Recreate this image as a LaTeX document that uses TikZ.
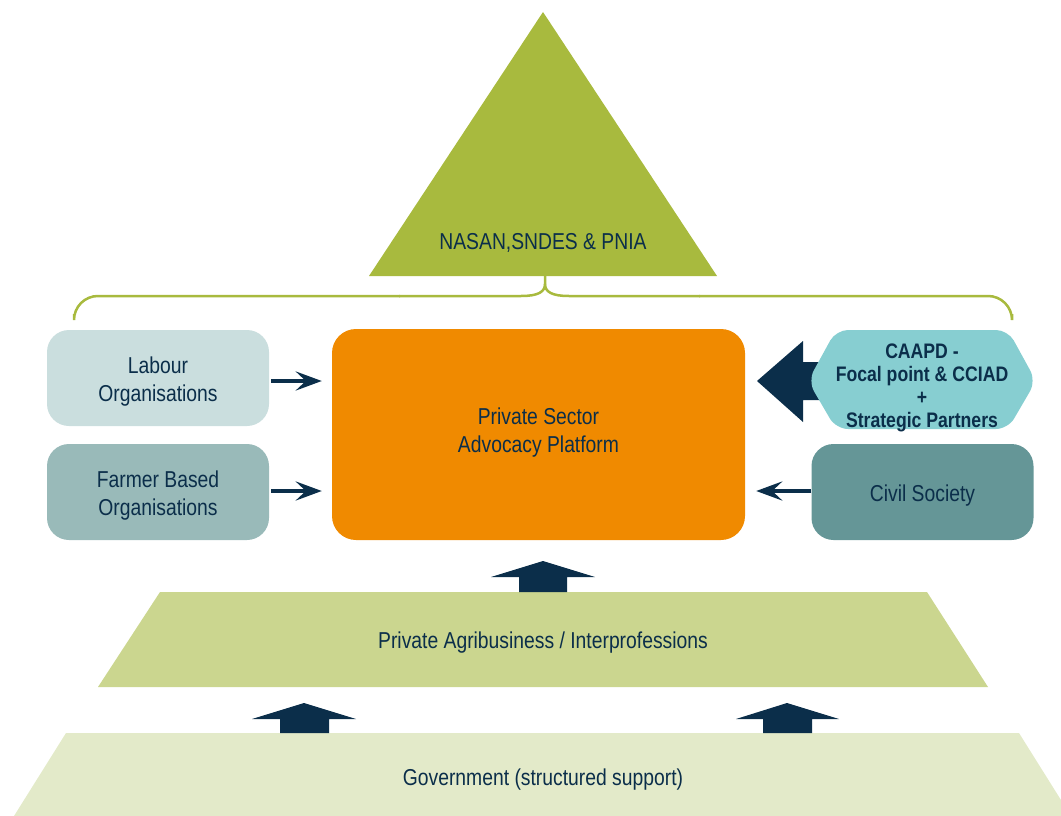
\documentclass[tikz,border=0pt]{standalone}
\usepackage{fontspec}
\setmainfont{Liberation Sans}[FakeStretch=0.84]
\usetikzlibrary{arrows.meta}
\definecolor{navy}{HTML}{0B2E4A}
\definecolor{trigreen}{HTML}{A8BA3E}
\definecolor{labourc}{HTML}{CADEDE}
\definecolor{farmerc}{HTML}{99BAB9}
\definecolor{civilc}{HTML}{659697}
\definecolor{hexc}{HTML}{87CED1}
\definecolor{orangec}{HTML}{F08A00}
\definecolor{midc}{HTML}{CBD68F}
\definecolor{botc}{HTML}{E3EAC9}
\tikzset{
  txt/.style={text=navy, font=\fontsize{23}{28}\selectfont, align=center, inner sep=0pt},
  box/.style={rounded corners=22pt, minimum width=222pt, minimum height=96pt, inner sep=0pt},
  thin arrow/.style={draw=navy, line width=4pt, -{Stealth[length=26pt,width=19pt,inset=10pt]}},
  bracel/.style={draw=trigreen, line width=2.5pt}
}
\begin{document}
\begin{tikzpicture}[x=1pt,y=-1pt]
\useasboundingbox (0,0) rectangle (1061,816);
\clip (0,0) rectangle (1061,816);
% top triangle
\fill[trigreen] (543,12) -- (717,276) -- (369,276) -- cycle;
\node[txt] (nasan) at (543,243) {NASAN,SNDES \& PNIA};
% brace
\draw[bracel, rounded corners=24pt] (74,314) -- (74,296) -- (400,296);
\draw[bracel] (399,296) -- (521,296) .. controls (538,296) and (545,292) .. (545,284) -- (545,276);
\draw[bracel] (545,284) .. controls (545,292) and (552,296) .. (569,296) -- (700,296);
\draw[bracel, rounded corners=24pt] (699,296) -- (1012,296) -- (1012,314);
% middle trapezoid
\fill[midc] (160,592) -- (927,592) -- (988,687) -- (98,687) -- cycle;
\node[txt] (agri) at (543,643) {Private Agribusiness / Interprofessions};
% bottom trapezoid
\fill[botc] (66,733) -- (1019,733) -- (1071,816) -- (14,816) -- cycle;
\node[txt] (gov) at (543,780) {Government (structured support)};
% boxes
\node[box, fill=labourc] (labour) at (158,378) {};
\node[txt] (labourt) at ([yshift=-3.5pt]labour.center) {Labour\\Organisations};
\node[box, fill=farmerc] (farmer) at (158,492) {};
\node[txt] (farmert) at ([yshift=-3.5pt]farmer.center) {Farmer Based\\Organisations};
\node[box, fill=civilc] (civil) at (922.5,492) {};
\node[txt] (civilt) at ([yshift=-4pt]civil.center) {Civil Society};
\node[box, fill=orangec, rounded corners=24pt, minimum width=413pt, minimum height=211pt] (psap) at (538.5,434.5) {};
\node[txt] (psapt) at ([yshift=1.5pt]psap.center) {Private Sector\\Advocacy Platform};
% thin arrows
\draw[thin arrow, shorten >=10pt, shorten <=2pt] (labour.east |- 0,381) -- (psap.west |- 0,381);
\draw[thin arrow, shorten >=10pt, shorten <=2pt] (farmer.east |- 0,491) -- (psap.west |- 0,491);
\draw[thin arrow, shorten >=11pt] (civil.west |- 0,491) -- (psap.east |- 0,491);
% big arrow from CAAPD
\fill[navy] (757,381) -- (803,341) -- (803,362) -- (860,362) -- (860,400) -- (803,400) -- (803,422) -- cycle;
\fill[hexc, rounded corners=12pt] (808,381) -- (836,330) -- (1008,330) -- (1036,381) -- (1008,429) -- (836,429) -- cycle;
\node[txt, font=\fontsize{21}{23}\selectfont\bfseries] (caapd) at (922,388) {CAAPD -\\Focal point \& CCIAD\\+\\Strategic Partners};
% up arrows
\fill[navy] (519,592) -- (519,577) -- (491,577) -- (543,561) -- (595,577) -- (567,577) -- (567,592) -- cycle;
\fill[navy] (280,733) -- (280,719) -- (252,719) -- (304,703) -- (356,719) -- (329,719) -- (329,733) -- cycle;
\fill[navy] (763,733) -- (763,719) -- (736,719) -- (787,703) -- (839,719) -- (812,719) -- (812,733) -- cycle;
\end{tikzpicture}
\end{document}
